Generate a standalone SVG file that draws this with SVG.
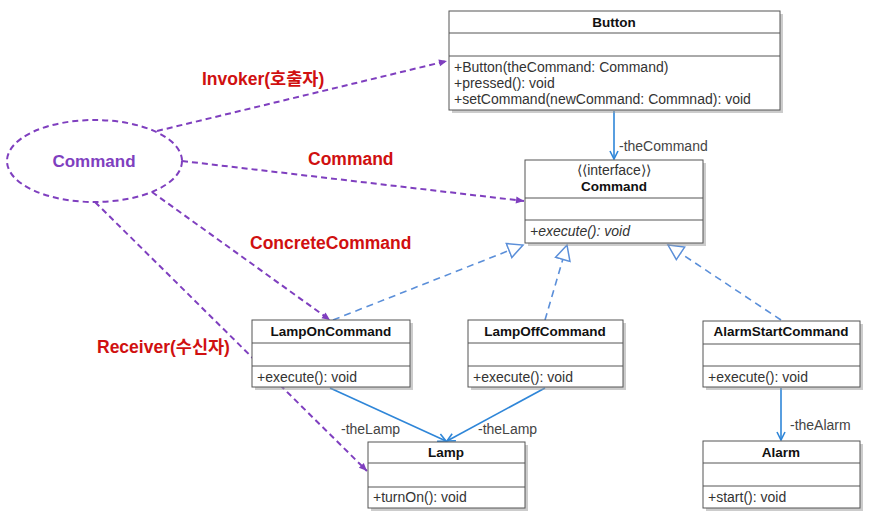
<svg xmlns="http://www.w3.org/2000/svg" width="871" height="517" viewBox="0 0 871 517">
<style>
.box{fill:#fff;stroke:#555;stroke-width:1}
.shadow{fill:#999;opacity:0.5}
.sep{stroke:#555;stroke-width:1}
.title{font-family:"Liberation Sans","Noto Sans CJK KR",sans-serif;font-size:13.5px;font-weight:bold;fill:#111;text-anchor:middle}
.txt{font-family:"Liberation Sans","Noto Sans CJK KR",sans-serif;font-size:14px;fill:#333}
.lbl{font-family:"Liberation Sans","Noto Sans CJK KR",sans-serif;font-size:14px;fill:#444}
.red{font-family:"Liberation Sans","Noto Sans CJK KR",sans-serif;font-size:17.5px;font-weight:bold;fill:#D01010}
.assoc{stroke:#2F86D8;stroke-width:1.6;fill:none}
.real{stroke:#5B8FD9;stroke-width:1.6;fill:none;stroke-dasharray:7,5}
.pur{stroke:#7F3FBF;stroke-width:2;fill:none;stroke-dasharray:6,4}
</style>
<defs>
<marker id="open" markerWidth="10" markerHeight="10" refX="9" refY="5" orient="auto" markerUnits="userSpaceOnUse">
<path d="M1,1 L9,5 L1,9" fill="none" stroke="#2F86D8" stroke-width="1.6"/>
</marker>
<marker id="tri" markerWidth="18" markerHeight="18" refX="16" refY="9" orient="auto" markerUnits="userSpaceOnUse">
<path d="M1,1.5 L16,9 L1,16.5 Z" fill="#fff" stroke="#5B8FD9" stroke-width="1.5"/>
</marker>
<marker id="parr" markerWidth="10" markerHeight="10" refX="9" refY="5" orient="auto" markerUnits="userSpaceOnUse">
<path d="M1,1.5 L9,5 L1,8.5 Z" fill="#7F3FBF"/>
</marker>
</defs>
<rect width="871" height="517" fill="#fff"/>

<g id="connectors">
<line class="assoc" x1="614" y1="111" x2="614" y2="159" marker-end="url(#open)"/>
<text class="lbl" x="619" y="151">-theCommand</text>
<line class="assoc" x1="330" y1="388" x2="446" y2="441" marker-end="url(#open)"/>
<line class="assoc" x1="545" y1="388" x2="447" y2="441" marker-end="url(#open)"/>
<text class="lbl" x="341" y="434">-theLamp</text>
<text class="lbl" x="478" y="434">-theLamp</text>
<line class="assoc" x1="781" y1="388" x2="781" y2="440" marker-end="url(#open)"/>
<text class="lbl" x="790" y="430">-theAlarm</text>
<line class="real" x1="333" y1="320" x2="523" y2="245" marker-end="url(#tri)"/>
<line class="real" x1="545" y1="320" x2="567" y2="245" marker-end="url(#tri)"/>
<line class="real" x1="781" y1="320" x2="668" y2="245" marker-end="url(#tri)"/>
<line class="pur" x1="157" y1="131" x2="447" y2="61" marker-end="url(#parr)"/>
<line class="pur" x1="182" y1="161" x2="524" y2="201" marker-end="url(#parr)"/>
<line class="pur" x1="152" y1="192" x2="330" y2="320" marker-end="url(#parr)"/>
<line class="pur" x1="95" y1="202" x2="367" y2="471" marker-end="url(#parr)"/>
</g>

<g id="roles">
<ellipse class="pur" cx="94.5" cy="161" rx="87.5" ry="41"/>
<text x="94" y="167" text-anchor="middle" font-family="Liberation Sans, Noto Sans CJK KR, sans-serif" font-size="17" font-weight="bold" fill="#7F3FBF">Command</text>
<text class="red" x="202" y="85">Invoker(호출자)</text>
<text class="red" x="308" y="165">Command</text>
<text class="red" x="250" y="249">ConcreteCommand</text>
<text class="red" x="97" y="353">Receiver(수신자)</text>
</g>

<g id="Button">
<rect class="shadow" x="452" y="14" width="331" height="99"/>
<rect class="box" x="449" y="11" width="331" height="99"/>
<line class="sep" x1="449" y1="33" x2="780" y2="33"/>
<line class="sep" x1="449" y1="56" x2="780" y2="56"/>
<text class="title" x="614" y="27">Button</text>
<text class="txt" x="454" y="72">+Button(theCommand: Command)</text>
<text class="txt" x="454" y="88">+pressed(): void</text>
<text class="txt" x="454" y="104">+setCommand(newCommand: Commnad): void</text>
</g>

<g id="CommandInterface">
<rect class="shadow" x="528" y="163" width="178" height="83"/>
<rect class="box" x="525" y="160" width="178" height="83"/>
<line class="sep" x1="525" y1="198" x2="703" y2="198"/>
<line class="sep" x1="525" y1="220" x2="703" y2="220"/>
<text x="614" y="175" text-anchor="middle" class="txt">⟨⟨interface⟩⟩</text>
<text class="title" x="614" y="191">Command</text>
<text class="txt" x="530" y="236" font-style="italic">+execute(): void</text>
</g>

<g id="LampOnCommand">
<rect class="shadow" x="255" y="323" width="158" height="67"/>
<rect class="box" x="252" y="320" width="158" height="67"/>
<line class="sep" x1="252" y1="343" x2="410" y2="343"/>
<line class="sep" x1="252" y1="366" x2="410" y2="366"/>
<text class="title" x="331" y="336">LampOnCommand</text>
<text class="txt" x="257" y="382">+execute(): void</text>
</g>

<g id="LampOffCommand">
<rect class="shadow" x="471" y="323" width="155" height="67"/>
<rect class="box" x="468" y="320" width="155" height="67"/>
<line class="sep" x1="468" y1="343" x2="623" y2="343"/>
<line class="sep" x1="468" y1="366" x2="623" y2="366"/>
<text class="title" x="545" y="336">LampOffCommand</text>
<text class="txt" x="473" y="382">+execute(): void</text>
</g>

<g id="AlarmStartCommand">
<rect class="shadow" x="706" y="324" width="157" height="66"/>
<rect class="box" x="703" y="321" width="157" height="66"/>
<line class="sep" x1="703" y1="344" x2="860" y2="344"/>
<line class="sep" x1="703" y1="366" x2="860" y2="366"/>
<text class="title" x="781" y="336">AlarmStartCommand</text>
<text class="txt" x="708" y="382">+execute(): void</text>
</g>

<g id="Lamp">
<rect class="shadow" x="371" y="445" width="157" height="66"/>
<rect class="box" x="368" y="442" width="157" height="66"/>
<line class="sep" x1="368" y1="463" x2="525" y2="463"/>
<line class="sep" x1="368" y1="487" x2="525" y2="487"/>
<text class="title" x="446" y="457">Lamp</text>
<text class="txt" x="373" y="502">+turnOn(): void</text>
</g>

<g id="Alarm">
<rect class="shadow" x="706" y="444" width="157" height="67"/>
<rect class="box" x="703" y="441" width="157" height="67"/>
<line class="sep" x1="703" y1="463" x2="860" y2="463"/>
<line class="sep" x1="703" y1="486" x2="860" y2="486"/>
<text class="title" x="781" y="457">Alarm</text>
<text class="txt" x="708" y="502">+start(): void</text>
</g>
</svg>
